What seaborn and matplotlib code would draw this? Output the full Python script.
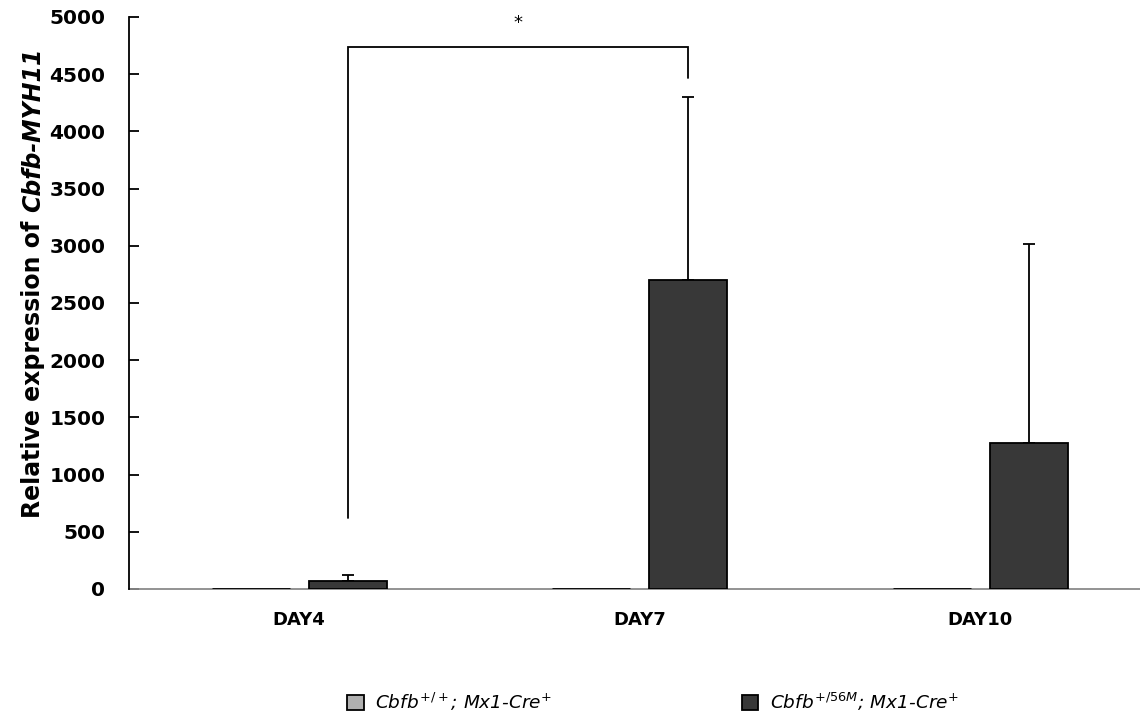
import numpy as np
import pandas as pd
import seaborn as sns
import matplotlib
matplotlib.use("Agg")
import matplotlib.pyplot as plt
from matplotlib.patches import Patch
from matplotlib.container import BarContainer

# ---- data ----
days = ["DAY4", "DAY7", "DAY10"]
genotypes = ["Cbfb+/+; Mx1-Cre+", "Cbfb+/56M; Mx1-Cre+"]
wt_values = [1, 1, 1]
mut_values = [70, 2700, 1275]
wt_err = [0, 0, 0]
mut_err = [52, 1600, 1740]
legend_labels = [r"$Cbfb^{+/+}$; Mx1-Cre$^{+}$", r"$Cbfb^{+/56M}$; Mx1-Cre$^{+}$"]
yticks = [0, 500, 1000, 1500, 2000, 2500, 3000, 3500, 4000, 4500, 5000]
sig_left_bottom = 620
sig_top = 4740
sig_right_bottom = 4470
sig_star_y = 4950
sig_label = "*"

colors = ["#b0b0b0", "#383838"]

df = pd.DataFrame({
    "day": days * 2,
    "genotype": [genotypes[0]] * 3 + [genotypes[1]] * 3,
    "value": wt_values + mut_values,
})
errs = [wt_err, mut_err]

sns.set_style("ticks")
plt.rcParams["font.family"] = ["DejaVu Sans"]
plt.rcParams["mathtext.fontset"] = "dejavusans"
plt.rcParams["text.color"] = "black"

W, H = 1140, 719
fig = plt.figure(figsize=(W / 100, H / 100), dpi=100)
ax = fig.add_axes([129 / W, 1 - 589 / H, (W - 129) / W, (589 - 17) / H])

sns.barplot(data=df, x="day", y="value", hue="genotype", order=days,
            hue_order=genotypes, palette=colors, width=0.57, gap=0.2,
            edgecolor="black", linewidth=1.3, errorbar=None, legend=False,
            saturation=1, ax=ax, zorder=3)

# error bars (upper only), positioned from the bars seaborn drew
bar_conts = [c for c in ax.containers if isinstance(c, BarContainer)]
centers = {}
for gi, cont in enumerate(bar_conts):
    for di, bar in enumerate(cont.patches):
        cx = bar.get_x() + bar.get_width() / 2
        h = bar.get_height()
        centers[(gi, di)] = (cx, h)
        if gi == 0:
            bar.set_linewidth(2.0)
        e = errs[gi][di]
        if e > 0:
            ax.errorbar(cx, h, yerr=[[0], [e]], fmt="none", ecolor="black",
                        elinewidth=1.3, capsize=4, capthick=1.3, zorder=2)

ax.set_xlim(-0.5, -0.5 + (W - 129) / 340.5)
ax.set_ylim(0, 5000)
ax.set_yticks(yticks)
ax.set_xlabel("")
ax.set_ylabel("")
for lab in ax.get_yticklabels() + ax.get_xticklabels():
    lab.set_fontweight("bold")
ax.tick_params(axis="y", direction="in", length=7, width=1.3, pad=17,
               labelsize=14.5, colors="black")
ax.tick_params(axis="x", length=0, pad=16, labelsize=13, labelcolor="black")
sns.despine(ax=ax, top=True, right=True)
ax.spines["left"].set_color("black")
ax.spines["left"].set_linewidth(1.3)
ax.spines["bottom"].set_color("#8a8a8a")
ax.spines["bottom"].set_linewidth(1.3)
ax.spines["bottom"].set_zorder(1)

# significance bracket between DAY4 and DAY7 mutant bars
x_left = centers[(1, 0)][0]
x_right = centers[(1, 1)][0]
ax.plot([x_left, x_left, x_right, x_right],
        [sig_left_bottom, sig_top, sig_top, sig_right_bottom],
        color="black", lw=1.3, clip_on=False, solid_joinstyle="miter")
ax.text((x_left + x_right) / 2, sig_star_y, sig_label, ha="center",
        va="center", fontsize=13, clip_on=False, color="black")

# legend
handles = [Patch(facecolor=c, edgecolor="black", linewidth=1.3) for c in colors]
fig.legend(handles, legend_labels, loc="center left",
           bbox_to_anchor=(347 / W, 1 - 702 / H), ncol=2, frameon=False,
           prop={"style": "italic", "size": 13.3}, handlelength=0.9,
           handleheight=0.9, handletextpad=0.6, columnspacing=10.3,
           borderpad=0, borderaxespad=0, labelcolor="black")

# y label in two parts (bold + bold italic)
fig.canvas.draw()
r = fig.canvas.get_renderer()
fs = 17
t1 = fig.text(40 / W, 1 - 518 / H, "Relative expression of", rotation=90,
              rotation_mode="anchor", ha="left", va="baseline",
              fontsize=fs, fontweight="bold", color="black")
e1 = t1.get_window_extent(r)
gap = 0.35 * fs * 100 / 72
t2 = fig.text(40 / W, 1 - (518 - e1.height - gap) / H, "Cbfb-MYH11",
              rotation=90, rotation_mode="anchor", ha="left", va="baseline",
              fontsize=fs, fontweight="bold", style="italic", color="black")

fig.savefig("out.png", dpi=100)
